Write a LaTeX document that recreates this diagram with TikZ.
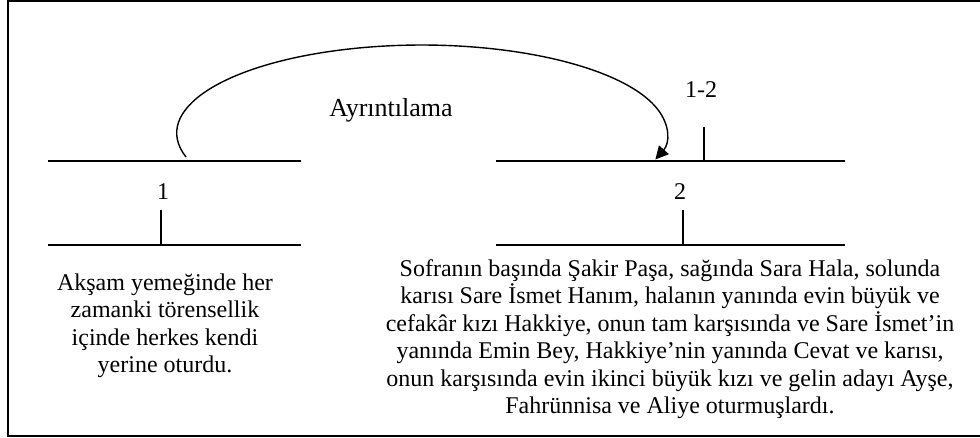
\documentclass[tikz,border=0pt]{standalone}
\usepackage{fontspec}
\setmainfont{Liberation Serif}
\usetikzlibrary{arrows.meta}
\begin{document}
\begin{tikzpicture}[x=1pt,y=1pt,
  rule/.style={line width=1.4pt},
  lbl/.style={font=\fontsize{24}{27.5}\selectfont, inner sep=0pt},
  body/.style={font=\fontsize{24}{27.5}\selectfont, align=center, inner sep=0pt}]
\useasboundingbox (0,0) rectangle (980,438);
\draw[line width=1.8pt] (8,2) rectangle (995,437);
% left structure
\coordinate (l1a) at (48,277); \coordinate (l1b) at (301,277);
\coordinate (l2a) at (48,193); \coordinate (l2b) at (301,193);
\coordinate (t1a) at (161,228); \coordinate (t1b) at (161,193);
\draw[rule] (l1a) -- (l1b);
\draw[rule] (l2a) -- (l2b);
\draw[rule] (t1a) -- (t1b);
\node[lbl] (n1) at (163,246) {1};
% right structure
\coordinate (r1a) at (496,277); \coordinate (r1b) at (845,277);
\coordinate (r2a) at (496,193); \coordinate (r2b) at (845,193);
\coordinate (t2a) at (683,228); \coordinate (t2b) at (683,193);
\coordinate (t3a) at (704,311); \coordinate (t3b) at (704,277);
\draw[rule] (r1a) -- (r1b);
\draw[rule] (r2a) -- (r2b);
\draw[rule] (t2a) -- (t2b);
\draw[rule] (t3a) -- (t3b);
\node[lbl] (n2) at (680,246) {2};
\node[lbl] (n12) at (701,348) {1-2};
% arc
\node[lbl, font=\fontsize{26}{30}\selectfont] (ayr) at (391,328) {Ayrıntılama};
\coordinate (as) at (186,281);
\draw[rule,-{Triangle[length=13pt,width=13pt]}] (as) arc[start angle=195.8, end angle=-17.5, x radius=245, y radius=88];
% texts
\node[body] (tl) at (165,112) {Akşam yemeğinde her\\zamanki törensellik\\içinde herkes kendi\\yerine oturdu.};
\node[body] (tr) at (670,99) {Sofranın başında Şakir Paşa, sağında Sara Hala, solunda\\karısı Sare İsmet Hanım, halanın yanında evin büyük ve\\cefakâr kızı Hakkiye, onun tam karşısında ve Sare İsmet’in\\yanında Emin Bey, Hakkiye’nin yanında Cevat ve karısı,\\onun karşısında evin ikinci büyük kızı ve gelin adayı Ayşe,\\Fahrünnisa ve Aliye oturmuşlardı.};
\end{tikzpicture}
\end{document}
